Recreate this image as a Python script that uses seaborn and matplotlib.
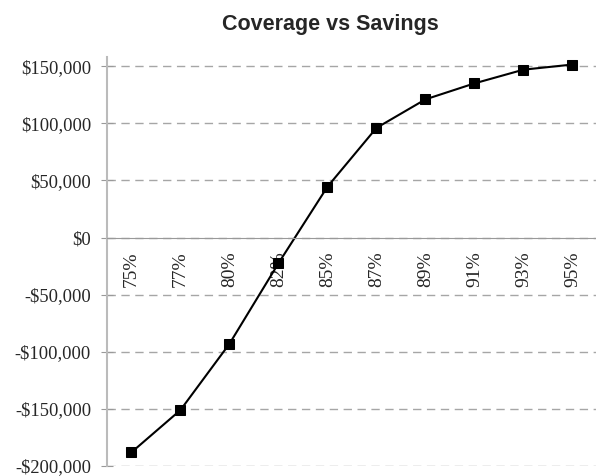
import matplotlib
matplotlib.use("Agg")
import matplotlib.pyplot as plt
import seaborn as sns
import pandas as pd
from matplotlib.ticker import FuncFormatter, FixedLocator

coverage = ["75%", "77%", "80%", "82%", "85%", "87%", "89%", "91%", "93%", "95%"]
savings = [-188000, -151000, -93000, -22500, 44500, 96000, 121000, 135000, 147000, 151500]

df = pd.DataFrame({"Coverage": coverage, "Savings": savings})

sns.set_style("white")
plt.rcParams["font.family"] = ["Liberation Serif", "DejaVu Serif"]

fig = plt.figure(figsize=(5.96, 4.76), dpi=100)
ax = fig.add_axes([0.1795, 0.021, 0.822, 0.859])

sns.lineplot(data=df, x="Coverage", y="Savings", ax=ax, sort=False,
             color="black", linewidth=1.5, marker="s", markersize=7,
             markeredgecolor="black", markerfacecolor="black")

ax.set_xlim(-0.5, 9.5)
ax.set_ylim(-200000, 158000)
ax.set_yticks(range(-200000, 150001, 50000))

def money(v, pos):
    if v < 0:
        return "-${:,.0f}".format(-v)
    return "${:,.0f}".format(v)

ax.yaxis.set_major_formatter(FuncFormatter(money))
ax.grid(axis="y", color="#a6a6a6", linestyle=(0, (6, 4)), linewidth=1)
ax.grid(axis="x", visible=False)

for s in ["top", "right"]:
    ax.spines[s].set_visible(False)
ax.spines["bottom"].set_position(("data", 0))
ax.spines["bottom"].set_color("#999999")
ax.spines["left"].set_color("#bbbbbb")
ax.spines["left"].set_linewidth(1.5)

# ticks sit between categories, labels at the centres
ax.xaxis.set_minor_locator(FixedLocator([i + 0.5 for i in range(-1, 10)]))
ax.tick_params(axis="x", which="major", length=0, pad=10, rotation=90, labelsize=14)
ax.tick_params(axis="x", which="minor", direction="in", length=6, color="#999999", width=1)
ax.tick_params(axis="y", which="major", direction="inout", length=8, color="#999999",
               labelsize=13.3, pad=7.5, left=True)
for lbl in ax.get_xticklabels():
    lbl.set_verticalalignment("top")

ax.set_xlabel("")
ax.set_ylabel("")

fig.text(0.554, 0.949, "Coverage vs Savings", ha="center", va="center",
         fontsize=15.5, fontweight="bold", family=["Liberation Sans", "DejaVu Sans"])

fig.savefig("out.png", dpi=100)
